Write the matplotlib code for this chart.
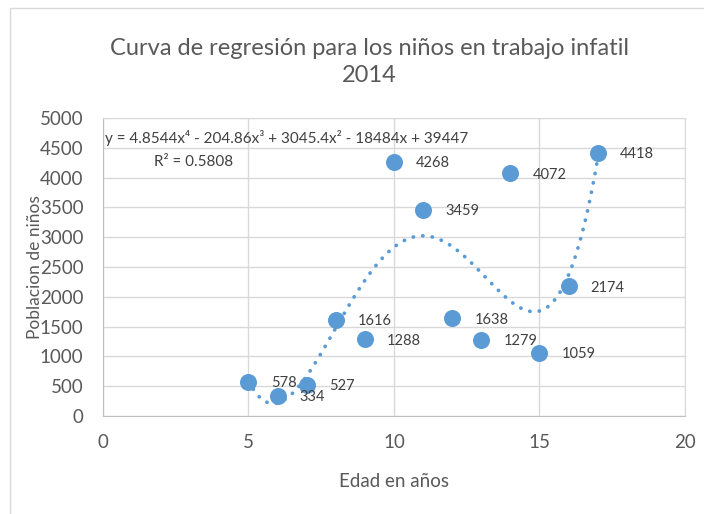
import numpy as np
import matplotlib.pyplot as plt
from matplotlib.patches import Rectangle

# data
edad = [5, 6, 7, 8, 9, 10, 11, 12, 13, 14, 15, 16, 17]
poblacion = [578, 334, 527, 1616, 1288, 4268, 3459, 1638, 1279, 4072, 1059, 2174, 4418]

title = "Curva de regresión para los niños en trabajo infatil\n2014"
eq_text = "y = 4.8544x⁴ - 204.86x³ + 3045.4x² - 18484x + 39447"
r2_text = "R² = 0.5808"

plt.rcParams['font.family'] = ['Lato', 'DejaVu Sans']
blue = '#5B9BD5'
gray_text = '#595959'

fig = plt.figure(figsize=(7.04, 5.14), dpi=100)
ax = fig.add_axes([103/704, 1 - 416/514, (685 - 103)/704, (416 - 118)/514])

# chart border
fig.patches.append(Rectangle((10/704, -0.01), 1.0, 1 - 8/514 + 0.01, transform=fig.transFigure,
                             fill=False, edgecolor='#D9D9D9', linewidth=1))

# polynomial trendline (order 4)
coef = np.polyfit(edad, poblacion, 4)
xs = np.linspace(min(edad), max(edad), 400)
ax.plot(xs, np.polyval(coef, xs), linestyle=(0, (0.05, 2.5)), color=blue,
        linewidth=2.7, dash_capstyle='round', zorder=2)

ax.scatter(edad, poblacion, s=150, color=blue, zorder=3, linewidths=0)

for x, y in zip(edad, poblacion):
    ax.annotate(str(y), (x, y), xytext=(16, -1), textcoords='offset points',
                ha='left', va='center', fontsize=10.5, color='#404040')

ax.set_xlim(0, 20)
ax.set_ylim(0, 5000)
ax.set_xticks(range(0, 21, 5))
ax.set_yticks(range(0, 5001, 500))
ax.grid(True, color='#D9D9D9', linewidth=1)
ax.set_axisbelow(True)
ax.tick_params(length=0, labelsize=13.5, colors=gray_text)
ax.tick_params(axis='y', pad=14)
ax.tick_params(axis='x', pad=13)
for side in ['top', 'right']:
    ax.spines[side].set_color('#D9D9D9')
for side in ['left', 'bottom']:
    ax.spines[side].set_color('#BFBFBF')

ax.text(0.08, 4660, eq_text, fontsize=11, color='#404040', va='center', ha='left')
ax.text(3.1, 4270, r2_text, fontsize=11, color='#404040', va='center', ha='center')

ax.set_xlabel("Edad en años", fontsize=13.5, color=gray_text, labelpad=16)
ax.set_ylabel("Poblacion de niños", fontsize=12.5, color=gray_text, labelpad=-2)
fig.text(0.525, 1 - 62/514, title, ha='center', va='center', fontsize=17,
         color=gray_text, linespacing=1.3)

fig.savefig('out.png', dpi=100)
